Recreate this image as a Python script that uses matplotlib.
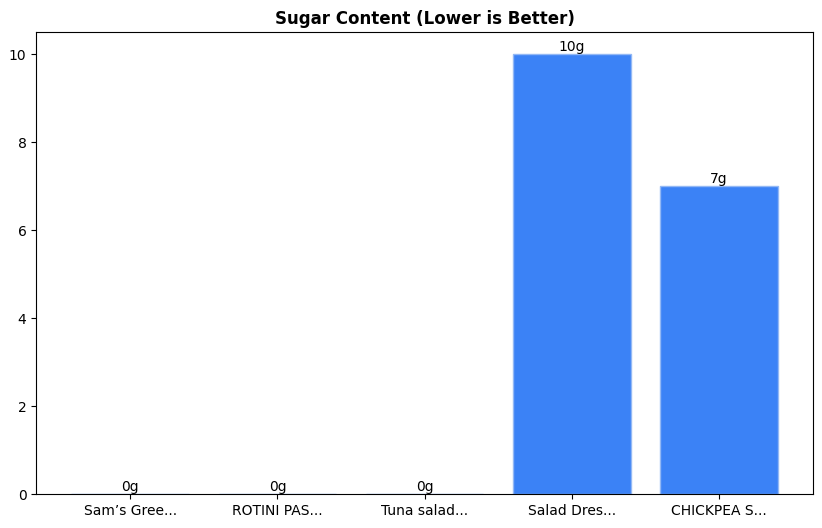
from matplotlib import pyplot as plt

# data
labels = ['Sam\u2019s Gree...', 'ROTINI PAS...', 'Tuna salad...', 'Salad Dres...', 'CHICKPEA S...']
sugar = [0, 0, 0, 10, 7]

fig = plt.figure(figsize=(8.22, 5.28), dpi=100)
ax = fig.add_axes([0.044, 0.064, 0.945, 0.875])
bars = ax.bar(labels, sugar, color='#3b82f6', edgecolor='#93b8f5', linewidth=1)
for b, v in zip(bars, sugar):
    ax.text(b.get_x() + b.get_width() / 2, b.get_height(), f'{v}g',
            ha='center', va='bottom', fontsize=10)
ax.set_title('Sugar Content (Lower is Better)', fontweight='bold', fontsize=12)
ax.set_ylim(0, 10.5)
fig.savefig('out.png', dpi=100)
